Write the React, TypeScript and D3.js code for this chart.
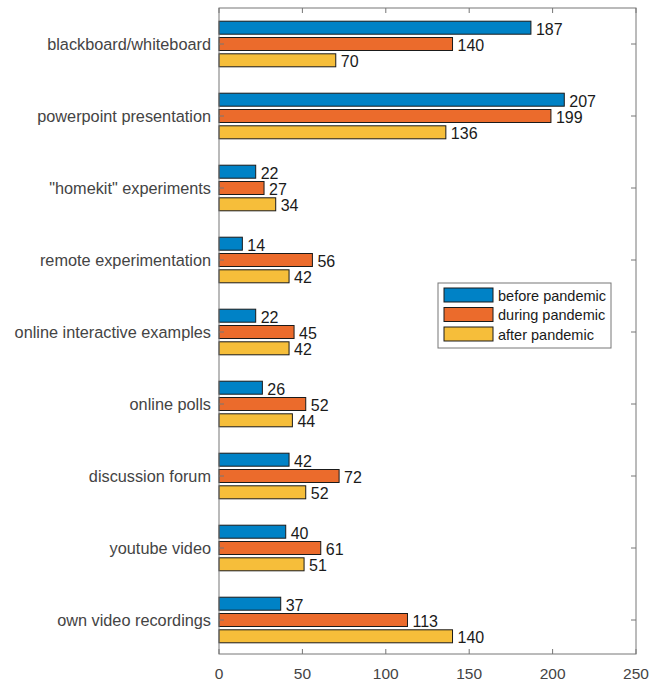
import React from "react";
import * as d3 from "d3";

const categories = [
  "blackboard/whiteboard",
  "powerpoint presentation",
  "\"homekit\" experiments",
  "remote experimentation",
  "online interactive examples",
  "online polls",
  "discussion forum",
  "youtube video",
  "own video recordings",
];
const seriesNames = ["before pandemic", "during pandemic", "after pandemic"];
const before = [187, 207, 22, 14, 22, 26, 42, 40, 37];
const during = [140, 199, 27, 56, 45, 52, 72, 61, 113];
const after = [70, 136, 34, 42, 42, 44, 52, 51, 140];
const xTicks = [0, 50, 100, 150, 200, 250];
const colors = ["#0082C6", "#EB6B2C", "#F6BE3A"];

export default function App() {
  const W = 662, H = 683;
  const left = 219, right = 636, top = 8, bottom = 654;
  const x = d3.scaleLinear().domain([0, 250]).range([left, right]);
  const y = d3.scalePoint().domain(categories).range([44, 620]);
  const series = [before, during, after];
  const barH = 13, barStep = 16.3;
  const font = "Liberation Sans, Arial, sans-serif";
  const axisColor = "#767676";
  return (
    <svg width={W} height={H} style={{ position: "absolute", left: 0, top: 0, background: "#fff" }}>
      <rect x={0} y={0} width={W} height={H} fill="#fff" />
      {categories.map((c, i) => {
        const cy = y(c) as number;
        return (
          <g key={c}>
            {series.map((s, k) => {
              const by = cy + (k - 1) * barStep - barH / 2;
              return (
                <g key={k}>
                  <rect x={x(0)} y={by} width={x(s[i]) - x(0)} height={barH} fill={colors[k]} stroke="#1a1a1a" strokeWidth={1} />
                  <text x={x(s[i]) + 5} y={by + barH + 0.5} fontSize={16} fontFamily={font} fill="#1a1a1a">{s[i]}</text>
                </g>
              );
            })}
            <text x={211} y={cy + 6} fontSize={16.3} fontFamily={font} fill="#444" textAnchor="end">{c}</text>
            <line x1={left} x2={left + 5} y1={cy} y2={cy} stroke={axisColor} />
            <line x1={right} x2={right - 5} y1={cy} y2={cy} stroke={axisColor} />
          </g>
        );
      })}
      {xTicks.map((t) => (
        <g key={t}>
          <line x1={x(t)} x2={x(t)} y1={bottom} y2={bottom - 5} stroke={axisColor} />
          <line x1={x(t)} x2={x(t)} y1={top} y2={top + 5} stroke={axisColor} />
          <text x={x(t)} y={bottom + 25} fontSize={15.5} fontFamily={font} fill="#444" textAnchor="middle">{t}</text>
        </g>
      ))}
      <rect x={left} y={top} width={right - left} height={bottom - top} fill="none" stroke={axisColor} strokeWidth={1} />
      <g>
        <rect x={438} y={283} width={173} height={65} fill="#fff" stroke={axisColor} />
        {seriesNames.map((n, k) => (
          <g key={n}>
            <rect x={444} y={288 + k * 19.5} width={49} height={14} fill={colors[k]} stroke="#1a1a1a" />
            <text x={498} y={300.5 + k * 19.5} fontSize={14.5} fontFamily={font} fill="#1a1a1a">{n}</text>
          </g>
        ))}
      </g>
    </svg>
  );
}
